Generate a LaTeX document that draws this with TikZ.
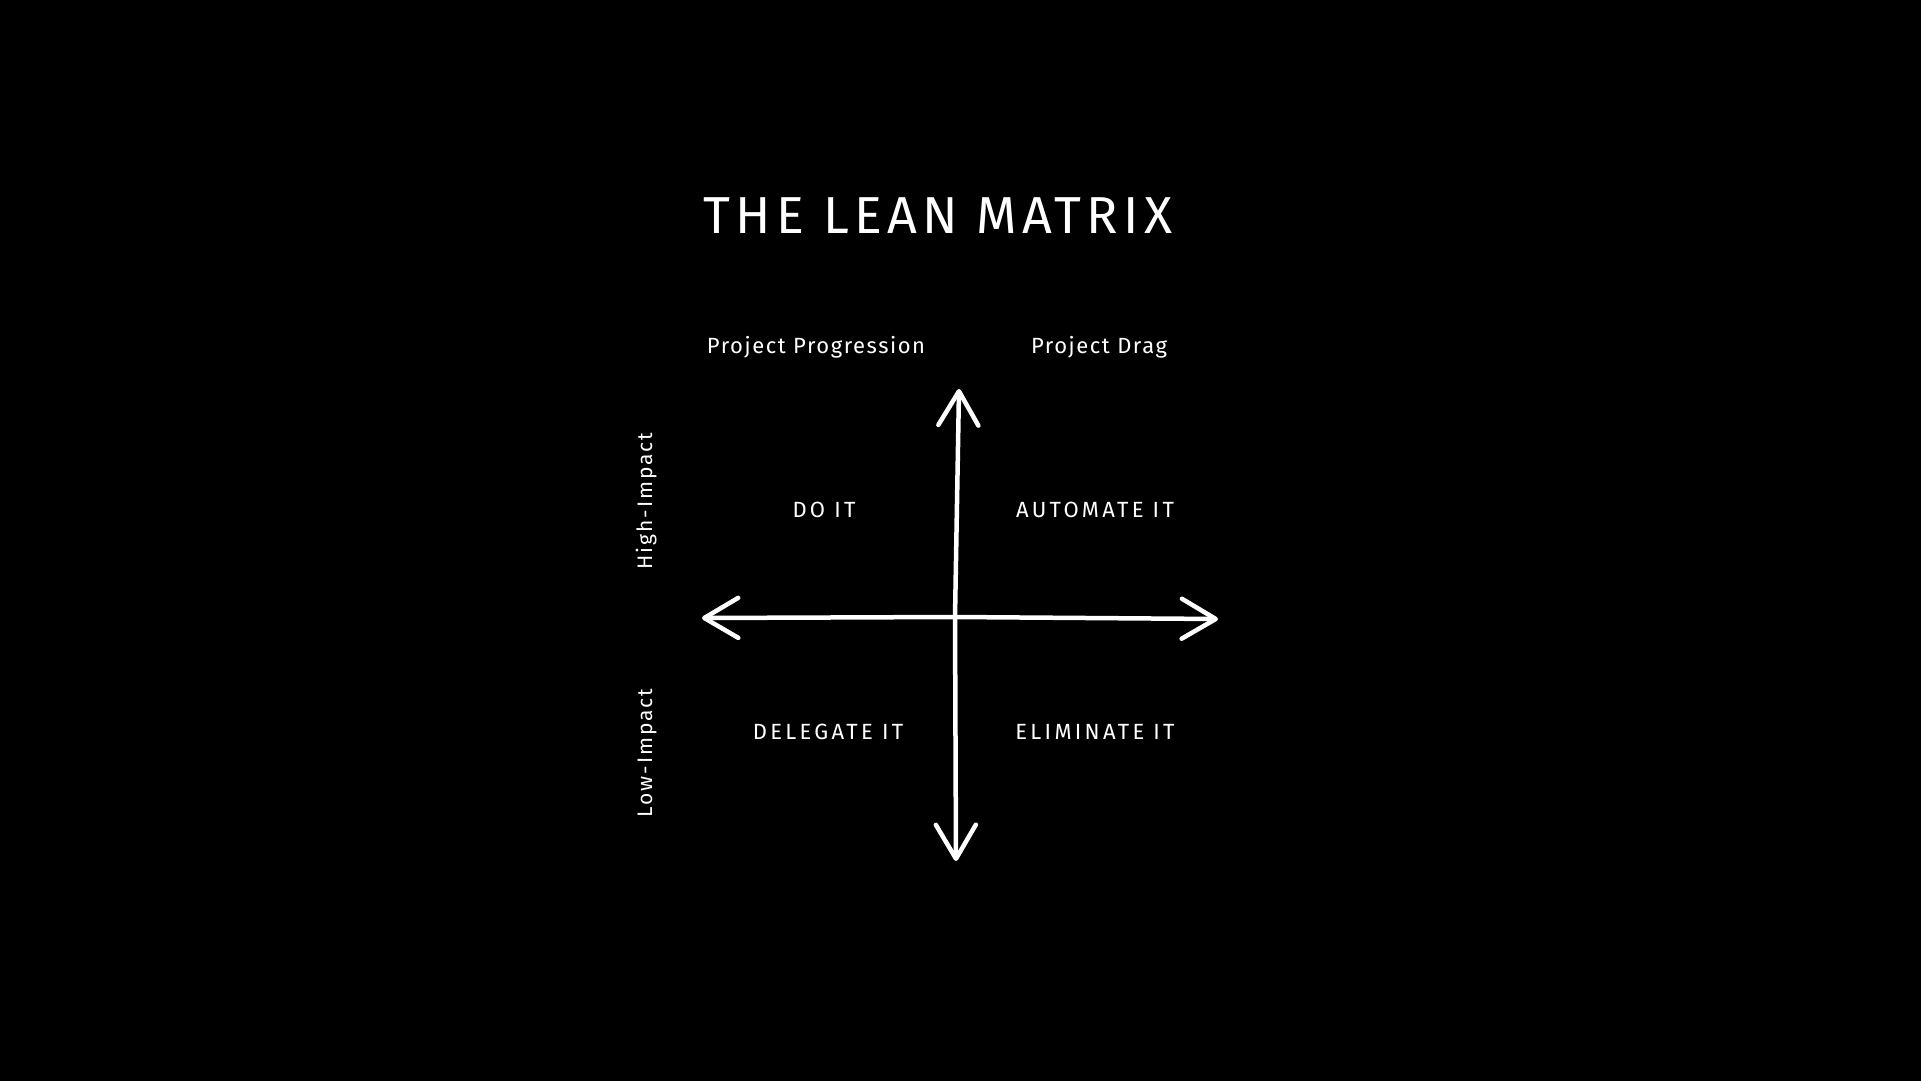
\documentclass[tikz,border=0pt]{standalone}
\usepackage{fontspec}
\setmainfont{Fira Sans}
\usetikzlibrary{arrows.meta}

\begin{document}
\begin{tikzpicture}[x=1pt, y=-1pt, text=white,
    title/.style={font=\fontsize{52}{60}\selectfont\addfontfeature{LetterSpace=10}, anchor=base},
    column/.style={font=\fontsize{22}{26}\selectfont\addfontfeature{LetterSpace=7}, anchor=base},
    quadrant/.style={font=\fontsize{22}{26}\selectfont\addfontfeature{LetterSpace=15}, anchor=base},
    impact/.style={font=\fontsize{21}{25}\selectfont\addfontfeature{LetterSpace=9}, anchor=base, rotate=90},
    axis/.style={draw=white, line width=4.5pt, line cap=round, line join=round,
        {Straight Barb[length=34pt, width=40pt, round]}-{Straight Barb[length=34pt, width=40pt, round]}}
]

% Background (fixes the page size)
\fill[black] (0,0) rectangle (1921,1081);
\useasboundingbox (0,0) rectangle (1921,1081);

% Title
\node[title] (Title) at (938,233) {THE LEAN MATRIX};

% Column headings
\node[column] (Progression) at (816,353) {Project Progression};
\node[column] (Drag) at (1099,353) {Project Drag};

% Axis ends
\coordinate (Centre) at (955,617);
\coordinate (North) at (959,389);
\coordinate (South) at (956,861);
\coordinate (West) at (702,618);
\coordinate (East) at (1218,619);

% Axes
\draw[axis] (North) -- (Centre) -- (South);
\draw[axis] (West) -- (Centre) -- (East);

% Quadrants
\node[quadrant] (DoIt) at (824,517) {DO IT};
\node[quadrant] (AutomateIt) at (1095,517) {AUTOMATE IT};
\node[quadrant] (DelegateIt) at (828,739) {DELEGATE IT};
\node[quadrant] (EliminateIt) at (1095,739) {ELIMINATE IT};

% Row labels
\node[impact] (High) at (652,501) {High-Impact};
\node[impact] (Low) at (652,753) {Low-Impact};

\end{tikzpicture}
\end{document}
